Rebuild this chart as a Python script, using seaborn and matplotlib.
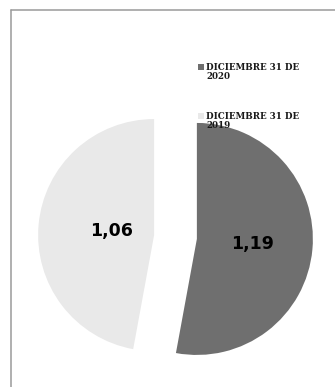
import matplotlib
matplotlib.use("Agg")
import numpy as np
import matplotlib.pyplot as plt
from matplotlib.patches import Rectangle
from matplotlib.lines import Line2D
import seaborn as sns

# Values by closing date
categories = ["DICIEMBRE 31 DE\n2020", "DICIEMBRE 31 DE\n2019"]
values = [1.19, 1.06]
value_labels = ["1,19", "1,06"]
colors = ["#6f6f6f", "#e9e9e9"]

sns.set_theme(style="white")
plt.rcParams["font.family"] = ["DejaVu Sans"]

W, H, DPI = 335, 387, 100
fig = plt.figure(figsize=(W / DPI, H / DPI), dpi=DPI)
fig.patch.set_facecolor("white")

ax = fig.add_axes([0, 0, 1, 1])
R = 116.0  # pixels per data unit (pie radius)
cx, cy = 175.5, 237.0  # pie center in pixels, from top-left

wedges, texts, autotexts = ax.pie(
    values,
    colors=colors,
    startangle=90,
    counterclock=False,
    explode=[0.185, 0.185],
    autopct=lambda p: "",
    pctdistance=0.45,
    wedgeprops=dict(linewidth=0),
)

# Place each value label along its wedge's mid-angle
label_dist = [0.48, 0.37]
for w, t, lab, d in zip(wedges, autotexts, value_labels, label_dist):
    mid = np.deg2rad((w.theta1 + w.theta2) / 2)
    x0, y0 = w.center
    t.set_position((x0 + d * np.cos(mid), y0 + d * np.sin(mid)))
    t.set_text(lab)
    t.set_fontsize(12.5)
    t.set_fontweight("bold")
    t.set_color("black")

ax.set_xlim(-cx / R, (W - cx) / R)
ax.set_ylim(-(H - cy) / R, cy / R)
ax.set_aspect("equal")
ax.axis("off")

# Chart frame (top and left edges)
frame_color = "#9a9a9a"
fig.add_artist(Line2D([11 / W, 11 / W], [0, 1 - 10 / H], transform=fig.transFigure,
                      color=frame_color, linewidth=1.1))
fig.add_artist(Line2D([11 / W, 1], [1 - 10 / H, 1 - 10 / H], transform=fig.transFigure,
                      color=frame_color, linewidth=1.1))

# Legend
legend_y = [64, 113]  # top of each entry, pixels from top
for cat, col, ytop in zip(categories, colors, legend_y):
    fig.add_artist(Rectangle((198 / W, 1 - (ytop + 6) / H), 6 / W, 6 / H,
                             transform=fig.transFigure, facecolor=col,
                             edgecolor="none", zorder=10))
    fig.text(206 / W, 1 - (ytop - 1) / H, cat, ha="left", va="top",
             fontsize=6.3, fontweight="bold", family=["DejaVu Serif"],
             color="#1a1a1a", linespacing=1.05, zorder=11)

fig.savefig("out.png", dpi=DPI)
